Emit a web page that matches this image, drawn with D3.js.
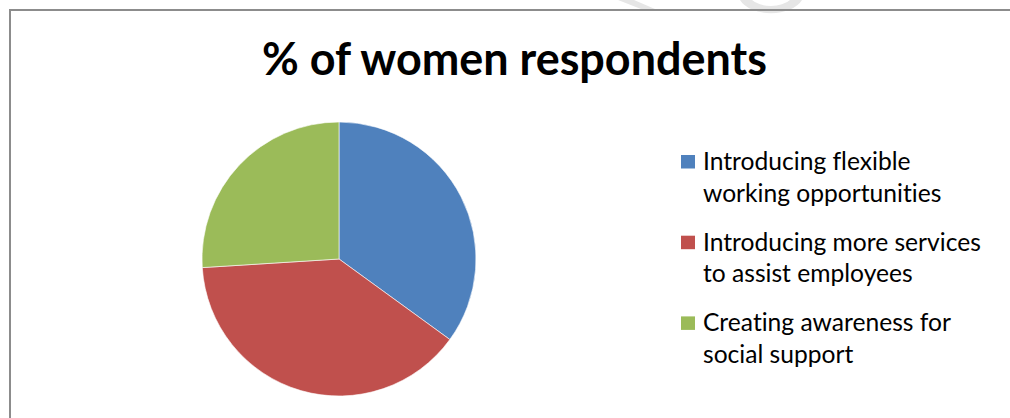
<!DOCTYPE html>
<html><head><meta charset="utf-8">
<script src="https://cdn.jsdelivr.net/npm/d3@7"></script>
<style>html,body{margin:0;padding:0;background:#fff;overflow:hidden}
text{font-variant-ligatures:none;font-feature-settings:"liga" 0,"clig" 0}</style>
</head><body>
<svg id="chart" width="1010" height="418"></svg>
<script>
const title = "% of women respondents";
const categories = [
  ["Introducing flexible", "working opportunities"],
  ["Introducing more services", "to assist employees"],
  ["Creating awareness for", "social support"]
];
const values = [35, 39, 26];
const colors = ["#4F81BD", "#C0504D", "#9BBB59"];

const svg = d3.select("#chart");
const FONT = "Lato, 'Open Sans', sans-serif";

// faint watermark fragments above the frame
const wm = svg.append("g").attr("fill", "#e6e6e6");
wm.append("path").attr("d", "M618,0 L634,0 L655,9 L641,9 Z");
wm.append("path").attr("d", "M740,0 A33,20 0 0 0 802,0 L790,0 A22,12 0 0 1 752,0 Z");

// frame
svg.append("path")
  .attr("d", "M10,418 L10,10 L1010,10")
  .attr("fill", "none").attr("stroke", "#8c8c8c").attr("stroke-width", 2);

// title, scaled to its measured width in the reference
const t = svg.append("text")
  .attr("x", 514.5).attr("y", 75)
  .attr("text-anchor", "middle")
  .attr("font-family", FONT).attr("font-weight", "bold")
  .attr("font-size", 46).attr("fill", "#000")
  .text(title);
const tw = t.node().getComputedTextLength();
t.attr("font-size", 46 * 505 / tw);

// pie
const cx = 339, cy = 259, r = 137;
const pie = d3.pie().sort(null).value(d => d)(values);
const arc = d3.arc().innerRadius(0).outerRadius(r);
const color = d3.scaleOrdinal().domain(d3.range(values.length)).range(colors);
svg.append("g").attr("transform", `translate(${cx},${cy})`)
  .selectAll("path").data(pie).join("path")
  .attr("d", arc)
  .attr("fill", (d, i) => color(i))
  .attr("stroke", "#fff").attr("stroke-width", 0.6);

// legend
const ly = d3.scaleLinear().domain([0, 1]).range([155, 235.7]);
const leg = svg.append("g");
const items = leg.selectAll("g").data(categories).join("g")
  .attr("transform", (d, i) => `translate(681,${ly(i)})`);
items.append("rect").attr("width", 14).attr("height", 13.5)
  .attr("fill", (d, i) => color(i));
const txt = items.append("text")
  .attr("font-family", FONT).attr("font-size", 22).attr("fill", "#000");
txt.selectAll("tspan").data(d => d).join("tspan")
  .attr("x", 22).attr("y", (d, j) => 15 + j * 31.5)
  .text(d => d);
// fit font size so the widest line matches the reference width
let mx = 0;
txt.selectAll("tspan").each(function(){ mx = Math.max(mx, this.getComputedTextLength()); });
txt.attr("font-size", 22 * 278 / mx);
</script>
</body></html>
